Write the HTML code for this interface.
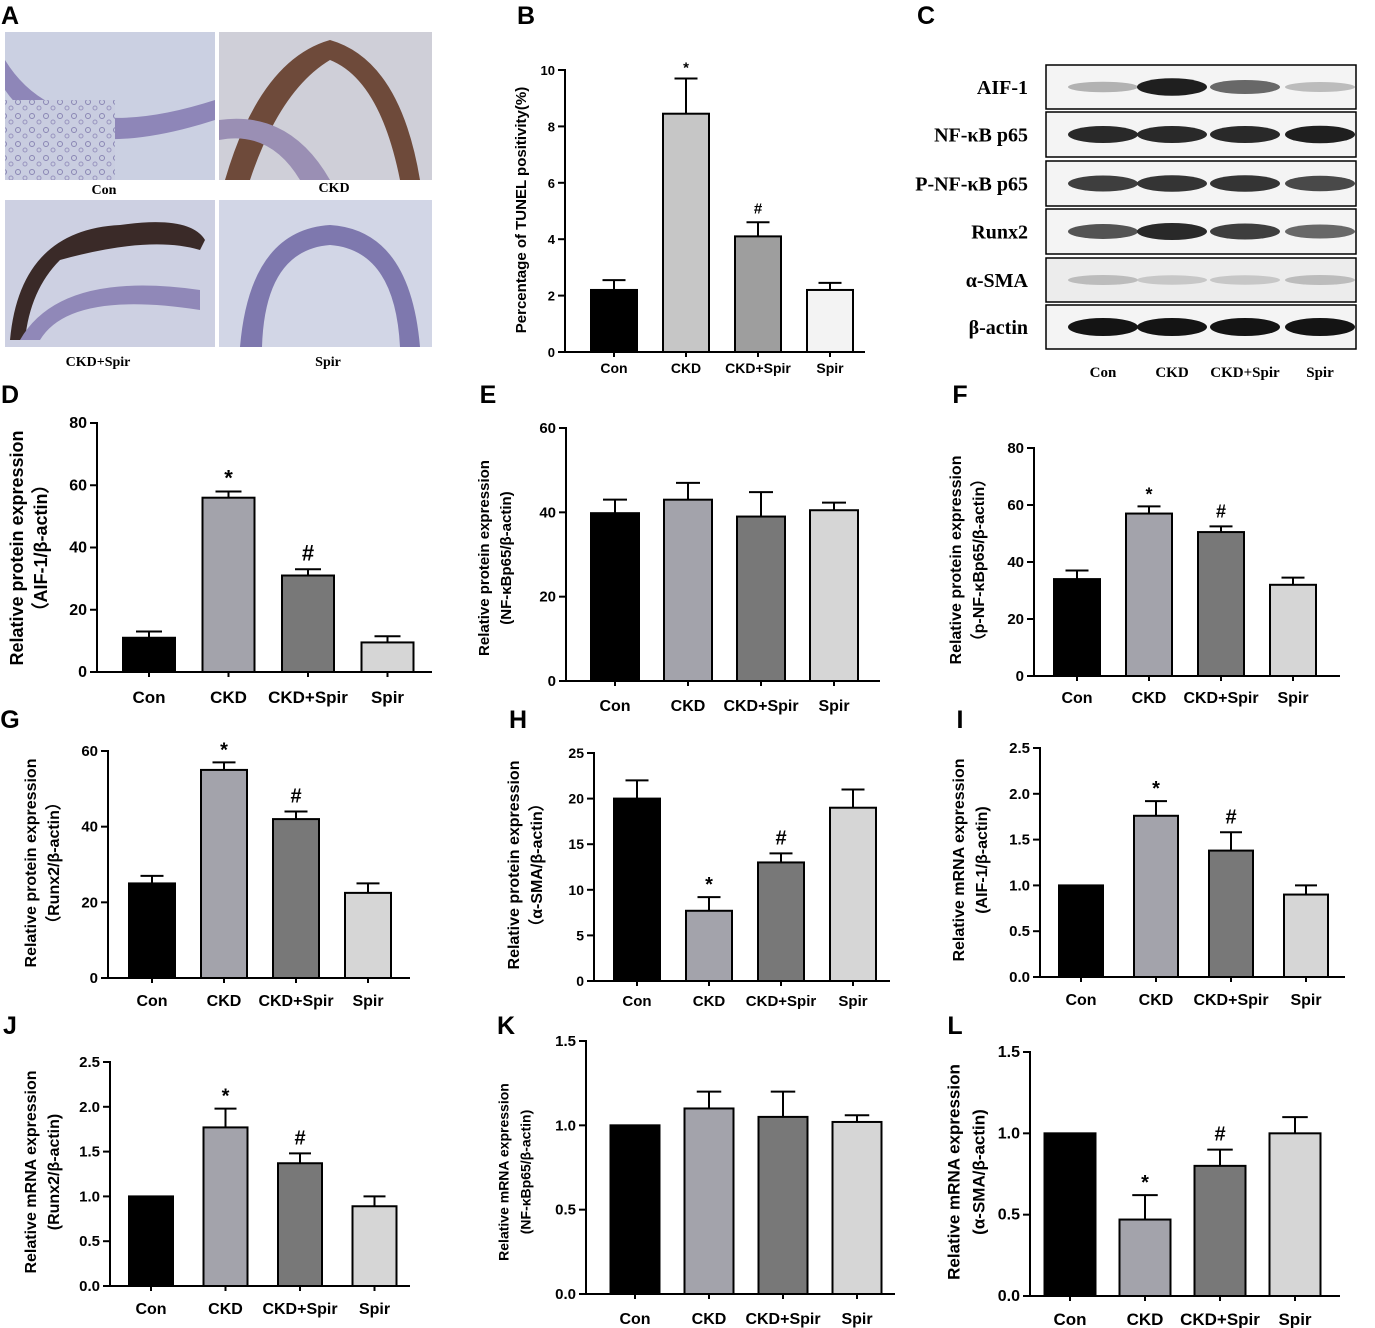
<!DOCTYPE html>
<html><head><meta charset="utf-8">
<style>
html,body{margin:0;padding:0;background:#fff;}
svg{display:block;}
text{font-family:"Liberation Sans","DejaVu Sans",sans-serif;}
.serif{font-family:"Liberation Serif",serif;font-weight:bold;}
</style></head>
<body>
<svg id="fig" width="1375" height="1328" viewBox="0 0 1375 1328" xmlns="http://www.w3.org/2000/svg">
<defs>
<pattern id="tis" width="14" height="14" patternUnits="userSpaceOnUse">
<rect width="14" height="14" fill="#c9cde0"/>
<circle cx="4" cy="4" r="2.5" fill="none" stroke="#8a86b4" stroke-width="1"/>
<circle cx="11" cy="10" r="2" fill="none" stroke="#9a96c0" stroke-width="1"/>
</pattern>
</defs>
<g id="panelA">
 <rect x="5" y="32" width="210" height="148" fill="#cbd0e2"/>
 <path d="M5,60 Q60,150 215,100 L215,120 Q60,170 5,90Z" fill="#8e86b8"/>
 <rect x="5" y="100" width="110" height="80" fill="url(#tis)"/>
 <rect x="219" y="32" width="213" height="148" fill="#cfcfd8"/>
 <path d="M225,180 Q260,60 330,40 Q400,60 420,180 L400,180 Q380,80 330,60 Q280,90 250,180Z" fill="#6e4a3a"/>
 <path d="M219,120 Q290,110 330,180 L300,180 Q270,130 219,140Z" fill="#9a8fb4"/>
 <rect x="5" y="200" width="210" height="147" fill="#cdd0e2"/>
 <path d="M10,340 Q20,230 120,225 Q190,215 205,240 L200,250 Q150,235 60,260 Q30,290 25,340Z" fill="#3a2a28"/>
 <path d="M20,340 Q60,270 200,290 L200,310 Q70,290 40,340Z" fill="#9088b8"/>
 <rect x="219" y="200" width="213" height="147" fill="#d2d6e6"/>
 <path d="M240,347 Q250,230 330,225 Q410,230 420,347 L400,347 Q395,250 330,245 Q265,250 262,347Z" fill="#7e78ae"/>
 <text x="104" y="194" font-size="14" class="serif" text-anchor="middle">Con</text>
 <text x="334" y="192" font-size="14" class="serif" text-anchor="middle">CKD</text>
 <text x="98" y="366" font-size="14" class="serif" text-anchor="middle">CKD+Spir</text>
 <text x="328" y="366" font-size="14" class="serif" text-anchor="middle">Spir</text>
</g>
<g id="panelC"></g>
<g id="charts"></g>
<g id="letters"></g>
</svg>
<script>
const NS="http://www.w3.org/2000/svg";
function mk(tag,attrs,parent){const e=document.createElementNS(NS,tag);for(const k in attrs)e.setAttribute(k,attrs[k]);parent.appendChild(e);return e;}
const groups=["Con","CKD","CKD+Spir","Spir"];
const colsStd=["#000000","#a3a3ab","#787878","#d6d6d6"];
const colsB=["#000000","#c6c6c6","#9e9e9e","#f3f3f3"];

const bValues=[2.2,8.45,4.1,2.2]; const bErr=[2.55,9.7,4.6,2.45]; const bTicks=[0,2,4,6,8,10];
const dValues=[11,56,31,9.5]; const dErr=[13,58,33,11.5]; const dTicks=[0,20,40,60,80];
const eValues=[39.8,43,39,40.5]; const eErr=[43,47,44.8,42.3]; const eTicks=[0,20,40,60];
const fValues=[34,57,50.5,32]; const fErr=[37,59.5,52.5,34.5]; const fTicks=[0,20,40,60,80];
const gValues=[25,55,42,22.5]; const gErr=[27,57,44,25]; const gTicks=[0,20,40,60];
const hValues=[20,7.7,13,19]; const hErr=[22,9.2,14,21]; const hTicks=[0,5,10,15,20,25];
const iValues=[1.0,1.76,1.38,0.9]; const iErr=[1.0,1.92,1.58,1.0]; const iTicks=["0.0","0.5","1.0","1.5","2.0","2.5"];
const jValues=[1.0,1.77,1.37,0.89]; const jErr=[1.0,1.98,1.48,1.0]; const jTicks=["0.0","0.5","1.0","1.5","2.0","2.5"];
const kValues=[1.0,1.1,1.05,1.02]; const kErr=[1.0,1.2,1.2,1.06]; const kTicks=["0.0","0.5","1.0","1.5"];
const lValues=[1.0,0.47,0.8,1.0]; const lErr=[1.0,0.62,0.9,1.1]; const lTicks=["0.0","0.5","1.0","1.5"];

const charts=[
{id:"b",vals:bValues,err:bErr,ticks:bTicks,max:10,ax:565,y0:352,yt:70,c0:614,st:72,bw:46,xe:865,ly:373,fs:14,cols:colsB,titles:["Percentage of TUNEL positivity(%)"],tx:[522],tc:210,tfs:15,marks:{1:"*",2:"#"},mfs:15},
{id:"d",vals:dValues,err:dErr,ticks:dTicks,max:80,ax:97,y0:672,yt:423,c0:149,st:79.5,bw:52,xe:432,ly:703,fs:17,cols:colsStd,titles:["Relative protein expression","（AIF-1/β-actin）"],tx:[18,42],tc:548,tfs:18,marks:{1:"*",2:"#"},mfs:22},
{id:"e",vals:eValues,err:eErr,ticks:eTicks,max:60,ax:566,y0:681,yt:428,c0:615,st:73,bw:48,xe:880,ly:711,fs:16,cols:colsStd,titles:["Relative protein expression","(NF-κBp65/β-actin)"],tx:[485,507],tc:558,tfs:15,marks:{},mfs:18},
{id:"f",vals:fValues,err:fErr,ticks:fTicks,max:80,ax:1034,y0:676,yt:448,c0:1077,st:72,bw:46,xe:1340,ly:703,fs:16,cols:colsStd,titles:["Relative protein expression","（p-NF-κBp65/β-actin）"],tx:[957,980],tc:560,tfs:16,marks:{1:"*",2:"#"},mfs:18},
{id:"g",vals:gValues,err:gErr,ticks:gTicks,max:60,ax:108,y0:978,yt:751,c0:152,st:72,bw:46,xe:410,ly:1006,fs:16,cols:colsStd,titles:["Relative protein expression","（Runx2/β-actin）"],tx:[32,55],tc:863,tfs:16,marks:{1:"*",2:"#"},mfs:20},
{id:"h",vals:hValues,err:hErr,ticks:hTicks,max:25,ax:594,y0:981,yt:753,c0:637,st:72,bw:46,xe:890,ly:1006,fs:15,cols:colsStd,titles:["Relative protein expression","（α-SMA/β-actin）"],tx:[515,538],tc:865,tfs:16,marks:{1:"*",2:"#"},mfs:20},
{id:"i",vals:iValues,err:iErr,ticks:iTicks,max:2.5,ax:1040,y0:977,yt:748,c0:1081,st:75,bw:44,xe:1345,ly:1005,fs:16,cols:colsStd,titles:["Relative mRNA expression","(AIF-1/β-actin)"],tx:[960,983],tc:860,tfs:16,marks:{1:"*",2:"#"},mfs:20},
{id:"j",vals:jValues,err:jErr,ticks:jTicks,max:2.5,ax:110,y0:1286,yt:1062,c0:151,st:74.5,bw:44,xe:410,ly:1314,fs:16,cols:colsStd,titles:["Relative mRNA expression","(Runx2/β-actin)"],tx:[32,55],tc:1172,tfs:16,marks:{1:"*",2:"#"},mfs:20},
{id:"k",vals:kValues,err:kErr,ticks:kTicks,max:1.5,ax:586,y0:1294,yt:1041,c0:635,st:74,bw:49,xe:895,ly:1324,fs:16,cols:colsStd,titles:["Relative mRNA expression","(NF-κBp65/β-actin)"],tx:[505,527],tc:1172,tfs:14,marks:{},mfs:18},
{id:"l",vals:lValues,err:lErr,ticks:lTicks,max:1.5,ax:1030,y0:1296,yt:1052,c0:1070,st:75,bw:51,xe:1340,ly:1325,fs:17,cols:colsStd,titles:["Relative mRNA expression","(α-SMA/β-actin)"],tx:[955,980],tc:1172,tfs:17,marks:{1:"*",2:"#"},mfs:20}
];
const root=document.getElementById("charts");
charts.forEach(c=>{
 const g=mk("g",{},root);
 
 
 const y=v=>c.y0-(v/c.max)*(c.y0-c.yt);
 const x=i=>c.c0+i*c.st;
 c.vals.forEach((v,i)=>{
  const top=y(c.err[i]);
  if(c.err[i]>v){
   const l=mk("line",{x1:x(i),x2:x(i),y1:y(v),y2:top,stroke:"#000","stroke-width":2},g);
   
   
   mk("line",{x1:x(i)-c.bw*0.25,x2:x(i)+c.bw*0.25,y1:top,y2:top,stroke:"#000","stroke-width":2},g);
  }
  const r=mk("rect",{x:x(i)-c.bw/2,y:y(v),width:c.bw,height:c.y0-y(v),fill:c.cols[i],stroke:"#000","stroke-width":2},g);
  
  
  const t=mk("text",{x:x(i),y:c.ly,"font-size":c.fs,"font-weight":"bold","text-anchor":"middle"},g);
  t.textContent=groups[i];
  
  
  if(c.marks[i]){
   const m=mk("text",{x:x(i),y:top-(c.marks[i]=="*"?6:9),"font-size":c.mfs,"font-weight":"bold","text-anchor":"middle"},g);
   m.textContent=c.marks[i];
   
   
  }
 });
 const ax=mk("line",{x1:c.ax,x2:c.ax,y1:c.yt-1,y2:c.y0,stroke:"#000","stroke-width":2},g);
 
 
 const xa=mk("line",{x1:c.ax-1,x2:c.xe,y1:c.y0,y2:c.y0,stroke:"#000","stroke-width":2},g);
 
 
 c.vals.forEach((v,i)=>{mk("line",{x1:x(i),x2:x(i),y1:c.y0,y2:c.y0+5,stroke:"#000","stroke-width":2},g);});
 c.ticks.forEach(tv=>{
  const yy=y(parseFloat(tv));
  mk("line",{x1:c.ax-7,x2:c.ax,y1:yy,y2:yy,stroke:"#000","stroke-width":2},g);
  const t=mk("text",{x:c.ax-10,y:yy+5,"font-size":c.fs-1,"font-weight":"bold","text-anchor":"end"},g);
  t.textContent=tv;
  
  
 });
 c.titles.forEach((tt,k)=>{
  const t=mk("text",{x:c.tx[k],y:c.tc,"font-size":c.tfs,"font-weight":"bold","text-anchor":"middle",transform:`rotate(-90 ${c.tx[k]} ${c.tc})`,"dominant-baseline":"middle"},g);
  t.textContent=tt;
  
  
 });
});
// Western blot
const wb=document.getElementById("panelC");
const rows=["AIF-1","NF-κB p65","P-NF-κB p65","Runx2","α-SMA","β-actin"];
const rowTop=[65,112,161,209,258,305];
const rowH=[44,45,45,45,44,44];
const intens=[[0.25,0.95,0.6,0.2],[0.9,0.9,0.9,0.95],[0.8,0.85,0.85,0.75],[0.7,0.9,0.8,0.6],[0.2,0.15,0.15,0.2],[1,1,1,1]];
const laneX=[1103,1172,1245,1320];
rows.forEach((r,ri)=>{
 const b=mk("rect",{x:1046,y:rowTop[ri],width:310,height:rowH[ri],fill:ri==4?"#ececec":"#f4f4f4",stroke:"#000","stroke-width":1.5},wb);
 
 
 intens[ri].forEach((v,li)=>{
  const g=Math.round(230-210*v);
  mk("ellipse",{cx:laneX[li],cy:rowTop[ri]+rowH[ri]/2,rx:35,ry:ri==5?9:(4+5*v),fill:`rgb(${g},${g},${g})`},wb);
 });
 const t=mk("text",{x:1028,y:rowTop[ri]+rowH[ri]/2+7,"font-size":20,"text-anchor":"end",class:"serif"},wb);
 t.textContent=r;
 
 
});
groups.forEach((gname,i)=>{
 const t=mk("text",{x:laneX[i],y:377,"font-size":15,"text-anchor":"middle",class:"serif"},wb);
 t.textContent=gname;
 
 
});
// letters
const letters=[["A",10,24],["B",526,24],["C",926,24],["D",10,403],["E",488,403],["F",960,403],["G",10,728],["H",518,728],["I",960,728],["J",10,1034],["K",506,1034],["L",955,1034]];
const lg=document.getElementById("letters");
letters.forEach(l=>{
 const t=mk("text",{x:l[1],y:l[2],"font-size":25,"font-weight":"bold","text-anchor":"middle"},lg);
 t.textContent=l[0];
 
 
});
</script>
</body></html>
